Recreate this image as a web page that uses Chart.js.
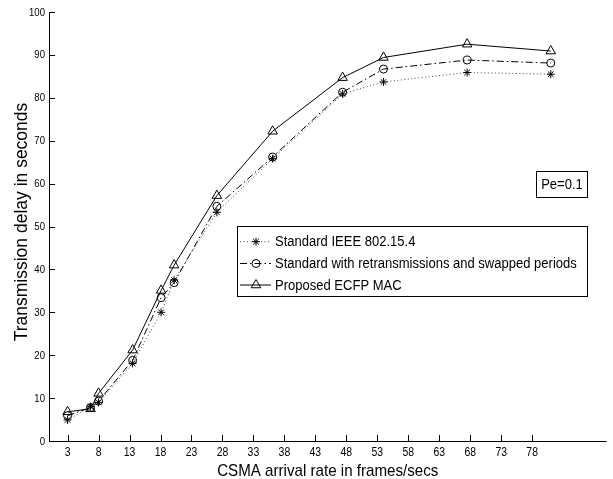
<!DOCTYPE html>
<html>
<head>
<meta charset="utf-8">
<script src="https://cdn.jsdelivr.net/npm/chart.js@4.4.1/dist/chart.umd.min.js"></script>
<style>
html,body{margin:0;padding:0;background:#fff;}
#wrap{width:613px;height:479px;position:relative;}
</style>
</head>
<body>
<div id="wrap"><canvas id="c" width="613" height="479"></canvas></div>
<script>
// ---- data ----
const arrivalRates = [3, 6.7, 8, 13.5, 18.1, 20.2, 27.1, 36.1, 47.4, 54, 67.5, 81];
const standardIEEE = [4.9, 8.0, 9.0, 18.1, 30.0, 37.5, 53.3, 65.8, 80.9, 83.7, 85.9, 85.5];
const retransSwapped = [5.9, 7.8, 9.3, 18.8, 33.4, 36.9, 54.7, 66.2, 81.3, 86.7, 88.8, 88.1];
const proposedECFP = [6.8, 7.5, 11.1, 21.2, 35.1, 41.0, 57.2, 72.2, 84.7, 89.4, 92.5, 90.9];
const xTickValues = [3, 8, 13, 18, 23, 28, 33, 38, 43, 48, 53, 58, 63, 68, 73, 78];
const yTickValues = [0, 10, 20, 30, 40, 50, 60, 70, 80, 90, 100];
const seriesNames = ['Standard IEEE 802.15.4', 'Standard with retransmissions and swapped periods', 'Proposed ECFP MAC'];
const xTitle = 'CSMA arrival rate in frames/secs';
const yTitle = 'Transmission delay in seconds';
const annotationText = 'Pe=0.1';

const FONT = "'Liberation Sans',Arial,Helvetica,sans-serif";
const SQ = 0.87; // horizontal condensing of the reference text

function pts(ys){ return arrivalRates.map((x,i)=>({x:x,y:ys[i]})); }

const datasets = [
  {label: seriesNames[0], data: pts(standardIEEE), borderColor:'#444', borderWidth:1, borderDash:[1,2.5],
   pointStyle:'star', pointRadius:4, pointBorderColor:'#000', pointBackgroundColor:'#000', pointBorderWidth:1},
  {label: seriesNames[1], data: pts(retransSwapped), borderColor:'#000', borderWidth:1, borderDash:[7,3,1.5,3],
   pointStyle:'circle', pointRadius:4, pointBorderColor:'#000', pointBackgroundColor:'rgba(255,255,255,0)', pointBorderWidth:1},
  {label: seriesNames[2], data: pts(proposedECFP), borderColor:'#000', borderWidth:1,
   pointStyle:'triangle', pointRadius:5.5, pointBorderColor:'#000', pointBackgroundColor:'rgba(255,255,255,0)', pointBorderWidth:1}
];

function sText(ctx, txt, x, y, size, sx, align, baseline){
  ctx.save();
  ctx.translate(x, y);
  ctx.scale(sx, 1);
  ctx.font = size + "px " + FONT;
  ctx.textAlign = align; ctx.textBaseline = baseline;
  ctx.fillStyle = '#000';
  ctx.fillText(txt, 0, 0);
  ctx.restore();
}

const decor = {
  id:'decor',
  afterDraw(chart){
    const ctx = chart.ctx, a = chart.chartArea;
    const xs = chart.scales.x, ys = chart.scales.y;
    ctx.save();
    ctx.strokeStyle='#000'; ctx.lineWidth=1; ctx.setLineDash([]);
    // axes
    ctx.beginPath();
    ctx.moveTo(a.left+0.5, a.top); ctx.lineTo(a.left+0.5, a.bottom+0.5);
    ctx.lineTo(a.right, a.bottom+0.5);
    ctx.stroke();
    // inward ticks
    ctx.beginPath();
    xs.ticks.forEach(t=>{ const px=Math.round(xs.getPixelForValue(t.value))+0.5; ctx.moveTo(px,a.bottom); ctx.lineTo(px,a.bottom-6); });
    ys.ticks.forEach(t=>{ const py=Math.round(ys.getPixelForValue(t.value))+0.5; ctx.moveTo(a.left,py); ctx.lineTo(a.left+6,py); });
    ctx.stroke();
    // tick labels
    xs.ticks.forEach(t=>{ sText(ctx, String(t.value), xs.getPixelForValue(t.value), a.bottom+12, 12, SQ, 'center', 'middle'); });
    ys.ticks.forEach(t=>{ sText(ctx, String(t.value), a.left-4, ys.getPixelForValue(t.value)+0.5, 11, SQ, 'right', 'middle'); });
    // axis titles
    sText(ctx, xTitle, (a.left+a.right)/2, 476, 17, 0.89, 'center', 'alphabetic');
    ctx.save();
    ctx.translate(27, 222);
    ctx.rotate(-Math.PI/2);
    sText(ctx, yTitle, 0, 0, 17.5, 1, 'center', 'alphabetic');
    ctx.restore();
    // annotation box
    ctx.fillStyle='#fff';
    ctx.fillRect(536.5,171.5,51,26);
    ctx.strokeRect(536.5,171.5,51,26);
    sText(ctx, annotationText, 562, 185, 15, SQ, 'center', 'middle');
    // legend
    const lx=237.5, ly=226.5, lw=350, lh=70;
    ctx.fillStyle='#fff'; ctx.fillRect(lx,ly,lw,lh);
    ctx.strokeRect(lx,ly,lw,lh);
    const rows=[241.7, 263.5, 285];
    chart.data.datasets.forEach((ds,i)=>{
      const y=rows[i];
      ctx.save();
      ctx.strokeStyle=ds.borderColor; ctx.lineWidth=1; ctx.setLineDash(ds.borderDash||[]);
      ctx.beginPath(); ctx.moveTo(240,y); ctx.lineTo(271,y); ctx.stroke();
      ctx.setLineDash([]);
      ctx.strokeStyle='#000'; ctx.fillStyle=ds.pointBackgroundColor;
      Chart.helpers.drawPoint(ctx,{pointStyle:ds.pointStyle, radius:ds.pointRadius, rotation:0, borderWidth:1}, 256, y);
      ctx.restore();
      sText(ctx, ds.label, 275, y+0.5, 15.5, 0.84, 'left', 'middle');
    });
    ctx.restore();
  }
};

new Chart(document.getElementById('c'), {
  type:'line',
  data:{datasets:datasets},
  plugins:[decor],
  options:{
    responsive:false, animation:false, devicePixelRatio:1,
    layout:{padding:{left:0, top:12, right:5, bottom:0}},
    plugins:{legend:{display:false}, tooltip:{enabled:false}},
    elements:{line:{tension:0}},
    scales:{
      x:{type:'linear', min:0, max:90,
         afterBuildTicks(s){ s.ticks = xTickValues.map(v=>({value:v})); },
         afterFit(s){ s.height = 38; },
         grid:{display:false, drawTicks:false}, border:{display:false},
         ticks:{display:false}},
      y:{type:'linear', min:0, max:100,
         afterBuildTicks(s){ s.ticks = yTickValues.map(v=>({value:v})); },
         afterFit(s){ s.width = 49; },
         grid:{display:false, drawTicks:false}, border:{display:false},
         ticks:{display:false}}
    }
  }
});
</script>
</body>
</html>
